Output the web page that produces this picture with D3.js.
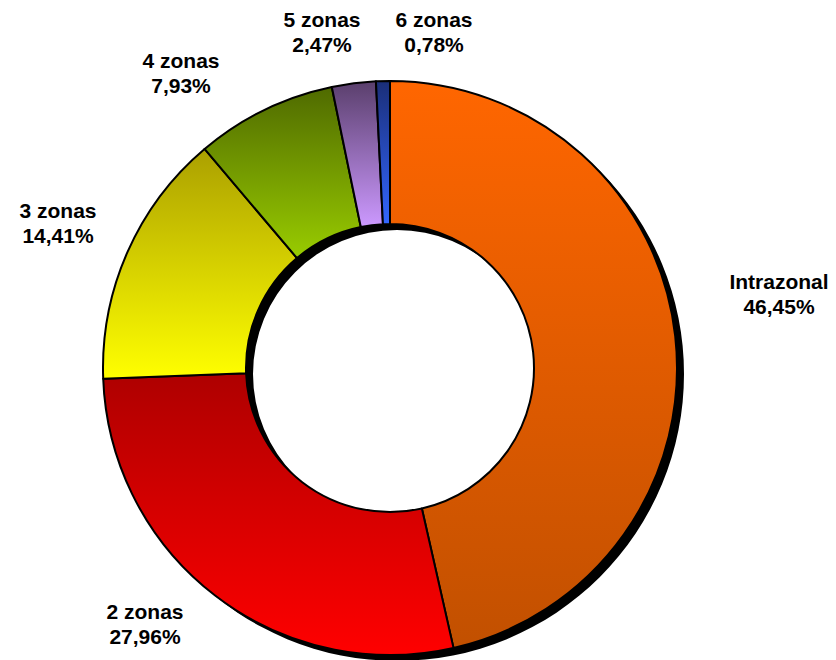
<!DOCTYPE html>
<html>
<head>
<meta charset="utf-8">
<script src="https://cdn.jsdelivr.net/npm/d3@7"></script>
<style>
  html, body { margin: 0; padding: 0; background: #fff; }
  svg { display: block; }
  text { font-family: "Liberation Sans", Arial, sans-serif; font-weight: bold; font-size: 21px; fill: #000; }
</style>
</head>
<body>
<svg id="chart" width="836" height="660"></svg>
<script>
// ---- data ----
const categories = ["Intrazonal", "2 zonas", "3 zonas", "4 zonas", "5 zonas", "6 zonas"];
const values = [46.45, 27.96, 14.41, 7.93, 2.47, 0.78];
const valueLabels = ["46,45%", "27,96%", "14,41%", "7,93%", "2,47%", "0,78%"];

// ---- styles / layout ----
const gradTop = ["#FF6600", "#AE0000", "#ABA000", "#4F6A00", "#5A3F6C", "#1A2E78"];
const gradBottom = ["#C25000", "#FF0000", "#FFFF00", "#99CC00", "#CC99FF", "#3366FF"];
const labelPos = [[779, 289], [145, 619], [58, 218], [181, 68], [322, 27], [434, 27]];
const cx = 390, cy = 368, outerR = 287, innerR = 144;

const svg = d3.select("#chart");
const defs = svg.append("defs");

categories.forEach((c, i) => {
  const g = defs.append("linearGradient")
    .attr("id", "grad" + i)
    .attr("x1", 0).attr("y1", 0).attr("x2", 0).attr("y2", 1);
  g.append("stop").attr("offset", "0%").attr("stop-color", gradTop[i]);
  g.append("stop").attr("offset", "100%").attr("stop-color", gradBottom[i]);
});

const blur = defs.append("filter").attr("id", "shadowBlur")
  .attr("x", "-10%").attr("y", "-10%").attr("width", "120%").attr("height", "120%");
blur.append("feGaussianBlur").attr("stdDeviation", 0.5);

const pie = d3.pie().sort(null).value(d => d).startAngle(0).endAngle(2 * Math.PI);
const arcs = pie(values);
const arc = d3.arc().innerRadius(innerR).outerRadius(outerR);

// shadow ring
svg.append("path")
  .attr("transform", `translate(${cx + 7},${cy + 6})`)
  .attr("d", d3.arc().innerRadius(innerR).outerRadius(outerR).startAngle(0).endAngle(2 * Math.PI)())
  .attr("fill", "#000")
  .attr("filter", "url(#shadowBlur)");

const g = svg.append("g").attr("transform", `translate(${cx},${cy})`);
g.selectAll("path.slice")
  .data(arcs)
  .enter().append("path")
  .attr("class", "slice")
  .attr("d", arc)
  .attr("fill", (d, i) => `url(#grad${i})`)
  .attr("stroke", "#000")
  .attr("stroke-width", 2)
  .attr("stroke-linejoin", "round");

// labels
const lbl = svg.append("g");
categories.forEach((c, i) => {
  const t = lbl.append("text")
    .attr("x", labelPos[i][0])
    .attr("y", labelPos[i][1])
    .attr("text-anchor", "middle");
  t.append("tspan").attr("x", labelPos[i][0]).text(c);
  t.append("tspan").attr("x", labelPos[i][0]).attr("dy", 25).text(valueLabels[i]);
});
</script>
</body>
</html>
